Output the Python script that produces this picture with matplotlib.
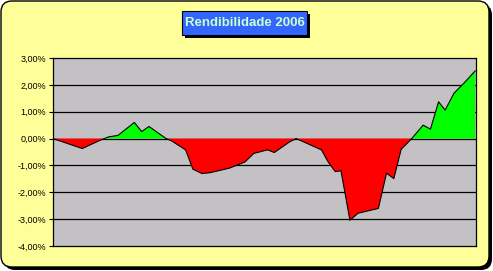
import numpy as np
import matplotlib
matplotlib.use("Agg")
import matplotlib.pyplot as plt
from matplotlib.patches import FancyBboxPatch, Rectangle

# week of the year (approx.) and cumulative return in %
weeks = [0.0, 3.6, 5.6, 6.8, 8.0, 10.0, 10.9, 11.8, 13.9, 14.6, 16.3, 17.2, 18.3,
         19.3, 21.7, 23.6, 24.7, 26.4, 27.2, 29.1, 29.9, 33.0, 33.8, 34.7, 35.4,
         36.5, 37.5, 40.0, 41.0, 41.9, 42.8, 44.1, 45.5, 46.4, 47.4, 48.2, 49.3,
         50.6, 51.9]
rend = [0.00, -0.37, -0.09, 0.06, 0.12, 0.60, 0.26, 0.45, 0.00, -0.09, -0.42, -1.14,
        -1.30, -1.27, -1.10, -0.87, -0.55, -0.42, -0.52, -0.12, 0.00, -0.42, -0.86,
        -1.23, -1.20, -3.04, -2.78, -2.60, -1.29, -1.49, -0.40, 0.00, 0.50, 0.35,
        1.37, 1.06, 1.69, 2.09, 2.52]
yticks = [3, 2, 1, 0, -1, -2, -3, -4]
title = "Rendibilidade 2006"

x = np.array(weeks)
y = np.array(rend)

W, H = 493, 271
fig = plt.figure(figsize=(W / 100, H / 100), dpi=100)
fig.patch.set_facecolor("white")

# background layer in pixel units for the frame and title box
bg = fig.add_axes([0, 0, 1, 1])
bg.set_xlim(0, W)
bg.set_ylim(H, 0)
bg.axis("off")
bg.add_patch(FancyBboxPatch((4, 4), 488, 266, boxstyle="round,pad=0,rounding_size=11",
                            fc="black", ec="black", lw=0))
bg.add_patch(FancyBboxPatch((1, 1), 488, 266, boxstyle="round,pad=0,rounding_size=11",
                            fc="#ffff99", ec="black", lw=1))
bg.add_patch(Rectangle((185, 14), 125, 24, fc="black", ec="none"))
bg.add_patch(Rectangle((182, 11), 125, 24, fc="#3366ff", ec="black", lw=0.8))
bg.text(244.5, 23.5, title, ha="center", va="center", color="#ccffcc",
        fontsize=9.5, fontweight="bold", family="Liberation Sans")

ax = fig.add_axes([53 / W, 1 - 246 / H, 423 / W, 188 / H])
ax.set_facecolor("#c3c1c3")
ax.fill_between(x, y, 0, where=y >= 0, interpolate=True, color="#00ff00", lw=0)
ax.fill_between(x, y, 0, where=y <= 0, interpolate=True, color="#ff0000", lw=0)
ax.plot(x, y, color="black", lw=0.8)

ax.set_xlim(0, 52)
ax.set_ylim(-4, 3)
ax.set_yticks(yticks)
ax.set_yticklabels([("%.2f%%" % v).replace(".", ",") for v in yticks],
                   fontsize=6.5, family="Liberation Sans")
ax.set_xticks([])
ax.tick_params(axis="y", length=3, width=0.8, pad=2)
for v in yticks[1:-1]:
    ax.axhline(v, color="black", lw=0.9, zorder=0.5)
for s in ax.spines.values():
    s.set_linewidth(0.9)

fig.savefig("out.png", dpi=100)
